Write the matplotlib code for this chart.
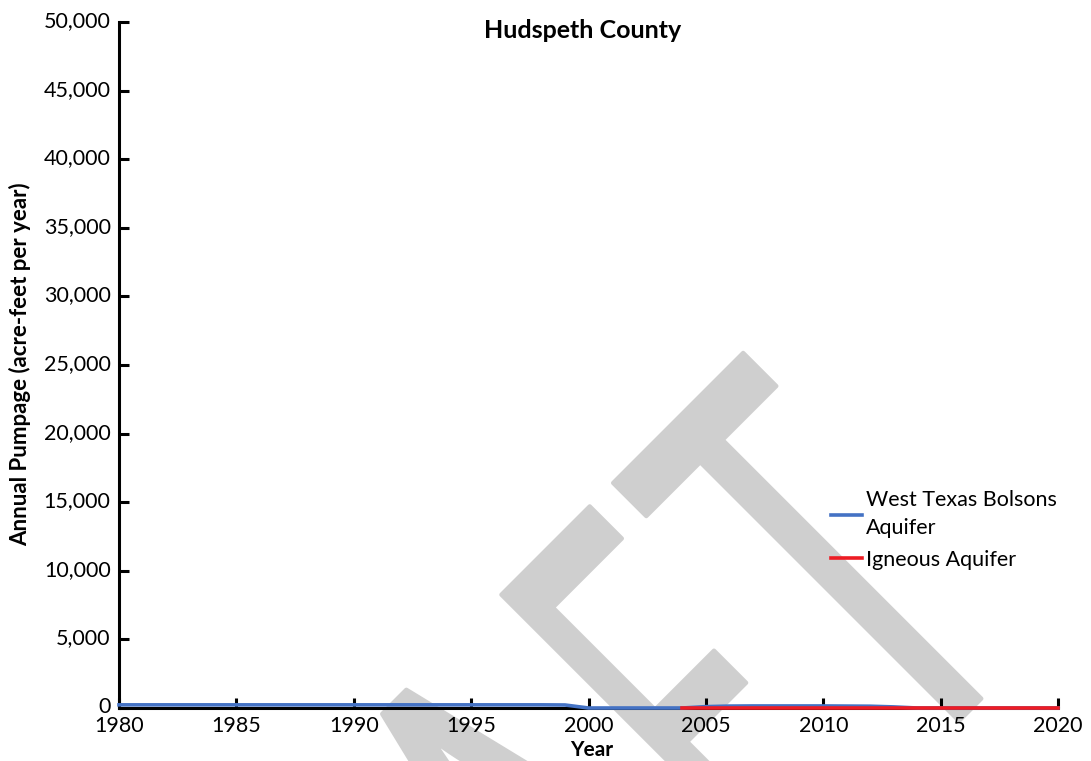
import numpy as np
import matplotlib
matplotlib.use("Agg")
import matplotlib.pyplot as plt
from matplotlib.ticker import MultipleLocator, StrMethodFormatter
from matplotlib.textpath import TextPath
from matplotlib.font_manager import FontProperties
from matplotlib.patches import PathPatch
from matplotlib.transforms import Affine2D, ScaledTranslation

# Pumpage data (acre-feet per year)
years_bolsons = [1980, 1981, 1982, 1983, 1984, 1985, 1986, 1987, 1988, 1989,
                 1990, 1991, 1992, 1993, 1994, 1995, 1996, 1997, 1998, 1999,
                 2000, 2001, 2002, 2003, 2004, 2005, 2006, 2007, 2008, 2009,
                 2010, 2011, 2012, 2013, 2014, 2015, 2016, 2017, 2018, 2019, 2020]
pumpage_bolsons = [230, 230, 230, 230, 230, 230, 230, 230, 230, 230,
                   230, 230, 230, 230, 230, 230, 230, 230, 230, 220,
                   0, 0, 0, 0, 0, 100, 140, 150, 150, 150,
                   150, 140, 130, 80, 0, 0, 0, 0, 0, 0, 0]

years_igneous = [2004, 2005, 2006, 2007, 2008, 2009, 2010, 2011, 2012,
                 2013, 2014, 2015, 2016, 2017, 2018, 2019, 2020]
pumpage_igneous = [0, 0, 0, 0, 0, 0, 0, 0, 0,
                   0, 0, 0, 0, 0, 0, 0, 0]

series_labels = ["West Texas Bolsons\nAquifer", "Igneous Aquifer"]
series_colors = ["#4472C4", "#ED1C24"]

W, H = 1091, 761
font = "Lato"
plt.rcParams['font.family'] = [font, 'DejaVu Sans']

fig = plt.figure(figsize=(W / 100, H / 100), dpi=100)
ax = fig.add_axes([119 / W, 1 - 708 / H, (1058 - 119) / W, (708 - 22) / H])
ax.set_facecolor('none')

# "DRAFT" watermark, letters stretched and turned 45 degrees
wm_prop = FontProperties(family=font)
r2 = np.sqrt(2)
v_top, v_base = 1096 / r2, 1680 / r2
# letter -> (left, right) along the rotated baseline, in pixels
wm_letters = [("D", -780, -570), ("R", -545, -350), ("A", -335, -100),
              ("F", -66, 59), ("T", 92, 276)]
to_screen = Affine2D(np.array([[1 / r2, 1 / r2, 0],
                               [1 / r2, -1 / r2, H],
                               [0, 0, 1]]))
for ch, u0, u1 in wm_letters:
    tp = TextPath((0, 0), ch, size=100, prop=wm_prop)
    ext = tp.get_extents()
    su = (u1 - u0) / ext.width
    sv = (v_base - v_top) / ext.y1
    tr = (Affine2D().translate(-ext.x0, 0).scale(su, -sv)
          .translate(u0, v_base) + to_screen
          + Affine2D().scale(1 / W, 1 / H))
    patch = PathPatch(tr.transform_path(tp), facecolor="#cfcfcf",
                      edgecolor="#cfcfcf", linewidth=3, joinstyle='round',
                      transform=fig.transFigure, zorder=-5)
    fig.add_artist(patch)

ax.plot(years_bolsons, pumpage_bolsons, color=series_colors[0], lw=2.6,
        label=series_labels[0], clip_on=False, zorder=3)
ax.plot(years_igneous, pumpage_igneous, color=series_colors[1], lw=2.6,
        label=series_labels[1], clip_on=False, zorder=3)

ax.set_xlim(1980, 2020)
ax.set_ylim(0, 50000)
ax.xaxis.set_major_locator(MultipleLocator(5))
ax.yaxis.set_major_locator(MultipleLocator(5000))
ax.yaxis.set_major_formatter(StrMethodFormatter('{x:,.0f}'))

for side in ['top', 'right']:
    ax.spines[side].set_visible(False)
for side in ['left', 'bottom']:
    ax.spines[side].set_linewidth(2.2)
ax.tick_params(axis='both', direction='in', length=7, width=2.2,
               labelsize=15.5)
ax.tick_params(axis='x', pad=6)
ax.tick_params(axis='y', pad=6)

# y labels sit a little above their ticks
lift = ScaledTranslation(0, 0.03, fig.dpi_scale_trans)
for lab in ax.get_yticklabels():
    lab.set_transform(lab.get_transform() + lift)

fig.text(583 / W, 1 - 30 / H, "Hudspeth County", ha='center', va='center',
         fontsize=18, fontweight='bold')
fig.text(592 / W, 1 - 750 / H, "Year", ha='center', va='center',
         fontsize=15, fontweight='bold')
fig.text(20 / W, 1 - 364 / H, "Annual Pumpage (acre-feet per year)",
         ha='center', va='center', rotation=90, fontsize=16,
         fontweight='bold')

leg = ax.legend(loc='center left', bbox_to_anchor=(831 / W, 1 - 530 / H),
                bbox_transform=fig.transFigure, frameon=False, fontsize=15.5,
                borderpad=0, borderaxespad=0, handlelength=1.44,
                handletextpad=0.2, labelspacing=0.55)
for txt in leg.get_texts():
    txt.set_linespacing(1.45)

fig.savefig("out.png", dpi=100)
